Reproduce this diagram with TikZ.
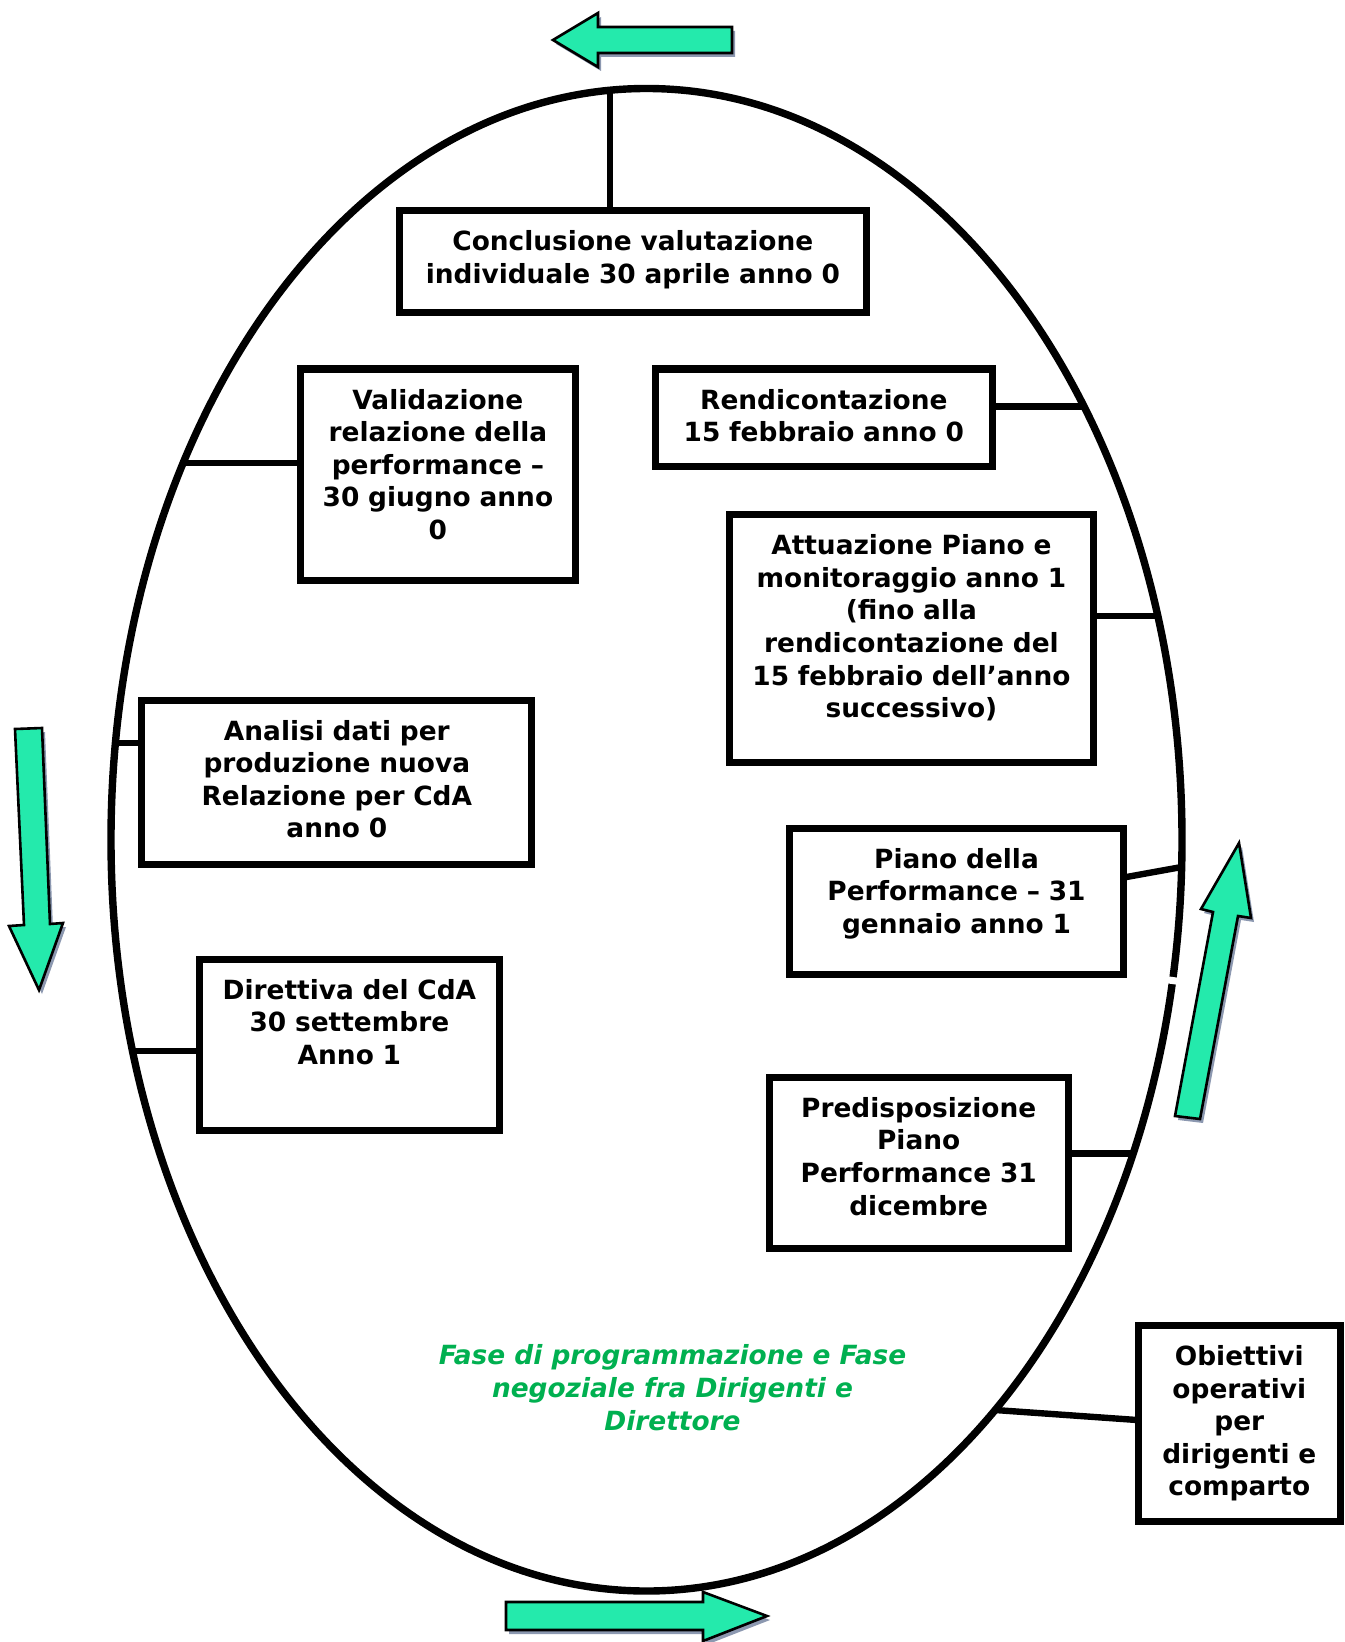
\documentclass[tikz,border=0pt]{standalone}
\usepackage{fontspec}
\setmainfont{DejaVu Sans}
\usetikzlibrary{shapes.geometric,shadows}
\definecolor{arrowGreen}{RGB}{36,234,172}
\definecolor{shadowBlue}{RGB}{140,152,176}
\definecolor{phaseGreen}{RGB}{0,176,80}
\tikzset{%
    base/.style = {
        draw=black, line width=3.5pt, inner xsep=4pt, inner ysep=0pt,
        outer sep=0pt, anchor=north west, align=center, text height=20pt,
        font=\fontsize{13.2}{16.3}\selectfont\bfseries
    },
    stage/.style = {base},
    link/.style = {line width=3.2pt},
    bigArrow/.style = {
        draw=black, line width=1.3pt, fill=arrowGreen, line join=miter,
        drop shadow={shadow xshift=1.5pt, shadow yshift=-2pt,
            fill=shadowBlue, opacity=1}
    },
    phaseText/.style = {
        align=center, text=phaseGreen, anchor=base,
        font=\fontsize{13.2}{16.3}\selectfont\bfseries\itshape
    },
}
\begin{document}
\begin{tikzpicture}[x=0.5pt, y=-0.5pt]
    \useasboundingbox (0,0) rectangle (1344,1642);
    % Ellipse of the cycle
    \node (perfCycle) [
            draw, ellipse, line width=3.7pt, inner sep=0pt, outer sep=0pt,
            minimum width=535.5pt, minimum height=751.25pt
    ] at (646.5,839.75) {};
    \coordinate (gapA) at (1173,977);
    \coordinate (gapB) at (1172,984);
    \draw[white, line width=4.5pt] (gapA) -- (gapB);

    % Nodes position
    \node (conc)  [stage, text width=225.3pt, text depth=31pt]
        at (399.5,211) {Conclusione valutazione\\individuale 30 aprile anno 0};
    \node (valid) [stage, text width=129.9pt, text depth=85.5pt]
        at (300,369) {Validazione\\relazione della\\performance –\\30 giugno anno\\0};
    \node (rend)  [stage, text width=160.8pt, text depth=28.9pt]
        at (655,369) {Rendicontazione\\15 febbraio anno 0};
    \node (attu)  [stage, text width=173.9pt, text depth=103.8pt]
        at (729.5,514.7) {Attuazione Piano e\\monitoraggio anno 1\\(fino alla\\rendicontazione del\\15 febbraio dell’anno\\successivo)};
    \node (anal)  [stage, text width=187pt, text depth=62.4pt]
        at (141.8,700) {Analisi dati per\\produzione nuova\\Relazione per CdA\\anno 0};
    \node (piano) [stage, text width=159.3pt, text depth=53pt]
        at (789.2,828) {Piano della\\Performance – 31\\gennaio anno 1};
    \node (dir)   [stage, text width=142pt, text depth=65.5pt]
        at (199.4,959) {Direttiva del CdA\\30 settembre\\Anno 1};
    \node (pred)  [stage, text width=141.4pt, text depth=65.6pt]
        at (769.3,1077.2) {Predisposizione\\Piano\\Performance 31\\dicembre};
    \node (obi)   [stage, text width=93.3pt, text depth=78.1pt]
        at (1138,1325.5) {Obiettivi\\operativi\\per\\dirigenti e\\comparto};

    \node (phase) [phaseText] at (672.5,1430)
        {Fase di programmazione e Fase\\negoziale fra Dirigenti e\\Direttore};

    % Connectors to the ellipse
    \coordinate (topEnd)   at (609.7,90.3);
    \coordinate (validEnd) at (183.2,463);
    \coordinate (rendEnd)  at (1083.9,406.4);
    \coordinate (attuEnd)  at (1157.7,616);
    \coordinate (analEnd)  at (115.5,742.7);
    \coordinate (pianoEnd) at (1181.6,867);
    \coordinate (dirEnd)   at (132.6,1050.7);
    \coordinate (predEnd)  at (1133.1,1153.3);
    \coordinate (obiEnd)   at (995.1,1410);
    \draw[link] (topEnd) -- (topEnd |- conc.north);
    \draw[link] (validEnd) -- (validEnd -| valid.west);
    \draw[link] (rendEnd) -- (rendEnd -| rend.east);
    \draw[link] (attuEnd) -- (attuEnd -| attu.east);
    \draw[link] (analEnd) -- (analEnd -| anal.west);
    \draw[link] (pianoEnd) -- (piano.8);
    \draw[link] (dirEnd) -- (dirEnd -| dir.west);
    \draw[link] (predEnd) -- (predEnd -| pred.east);
    \draw[link] (obiEnd) -- (obi.178);

    % Block arrows
    \draw[bigArrow] (732,27) -- (598,27) -- (598,13) -- (553,40)
        -- (598,67) -- (598,53) -- (732,53) -- cycle;
    \draw[bigArrow] (15,729) -- (42,728) -- (50,924) -- (63,923)
        -- (39,990) -- (9,926) -- (24,925) -- cycle;
    \draw[bigArrow] (1175,1116) -- (1213,912) -- (1201,909) -- (1239,843)
        -- (1251,918) -- (1238,916) -- (1200,1119) -- cycle;
    \draw[bigArrow] (506,1602) -- (703,1602) -- (703,1592) -- (767,1616)
        -- (703,1641) -- (703,1630) -- (506,1630) -- cycle;
\end{tikzpicture}
\end{document}
